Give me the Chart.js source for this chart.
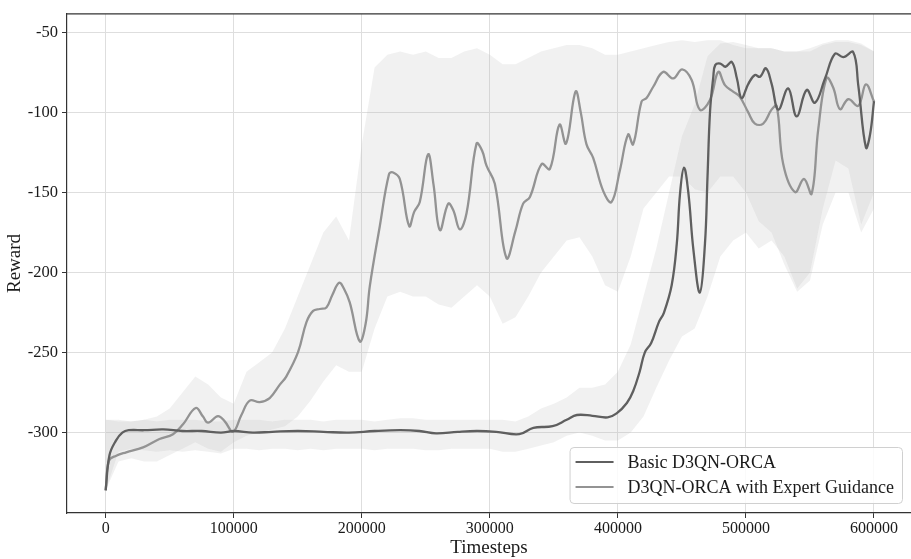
<!DOCTYPE html>
<html>
<head>
<meta charset="utf-8">
<script src="https://cdn.jsdelivr.net/npm/chart.js@4.4.1/dist/chart.umd.min.js"></script>
<style>
  html, body { margin: 0; padding: 0; background: #fff; }
</style>
</head>
<body>
<canvas id="c" width="911" height="559"></canvas>
<script>
// tick labels
const xTicks = [0, 100000, 200000, 300000, 400000, 500000, 600000];
const yTicks = [-300, -250, -200, -150, -100, -50];

// smoothed curve: Basic D3QN-ORCA
const basicSteps = [0, 3000, 8000, 13000, 18000, 30000, 45000, 60000, 75000, 90000,
  100000, 115000, 130000, 150000, 170000, 190000, 210000, 230000, 245000, 258000,
  275000, 290000, 305000, 323000, 334000, 349000, 360000, 368000, 380000, 392000,
  399000, 407000, 412000, 417000, 421000, 426000, 432000, 436000, 442000, 446000,
  448500, 451600, 455000, 459000, 464000, 468000, 470000, 472000, 474500, 476000,
  480000, 484000, 489000, 493000, 496600, 502000, 507000, 511000, 515600, 520000,
  525300, 533000, 539600, 547400, 553900, 561700, 569500, 576000, 583800, 587700,
  593700, 596900, 600000];
const basicReward = [-336, -314, -305, -300, -298.5, -298.5, -298, -299, -299, -300,
  -299, -300, -299.5, -299, -299.5, -300, -299, -298.5, -299, -300.5,
  -299.5, -299, -299.5, -301, -297, -296, -292, -289, -289.5, -290.5,
  -288, -281.5, -274, -262, -250, -244, -231, -225, -208, -182,
  -151, -134.5, -150, -186, -212.5, -182, -140, -99, -78, -70.5,
  -69.5, -71.5, -68.5, -79, -91, -82, -76.7, -77.8, -72.5, -82,
  -98.3, -85, -102.5, -86, -94, -79, -63.4, -65.5, -62.4, -83,
  -122, -114, -93];

// smoothed curve: D3QN-ORCA with Expert Guidance
const expertSteps = [0, 2600, 8300, 16000, 29200, 42000, 52600, 60400, 70300, 76000,
  80000, 87700, 93000, 99500, 106000, 112500, 120300, 128100, 136000, 141000,
  150300, 156800, 162000, 167200, 172400, 177000, 182300, 186000, 190600, 198400,
  203000, 206300, 214000, 221300, 224500, 229700, 237000, 241000, 245300, 251800,
  256000, 261000, 267500, 271400, 276600, 281800, 289600, 294000, 297400, 303900,
  313000, 320000, 326000, 331300, 340400, 346900, 354400, 359500, 367000, 371000,
  375500, 380700, 388500, 395000, 401500, 408000, 411900, 418500, 422400, 427600,
  435400, 443200, 450200, 457600, 464000, 471900, 478400, 483600, 490000, 495000,
  501800, 507000, 513500, 520000, 524000, 529100, 538300, 545300, 551300, 556500,
  563000, 568200, 573400, 579900, 587700, 593700, 600000];
const expertReward = [-336, -317.5, -314.4, -312.3, -309.2, -304, -301, -294.8, -284.6, -290,
  -293.8, -289.7, -293, -299.5, -289, -280, -280.9, -278.4, -270, -265,
  -249.6, -231, -224, -222.8, -221.8, -214, -206.4, -210, -218.7, -243,
  -232, -208.4, -171.4, -138.5, -137.5, -141.6, -171, -162, -156, -126.2,
  -145, -173.5, -157, -161, -173, -163, -119.5, -124, -133.3, -144.6,
  -190.9, -174, -157, -152.8, -132.3, -135.4, -107.6, -119.5, -87, -100,
  -120, -128.4, -149, -156, -136.4, -113.8, -120, -93.2, -91, -84,
  -74.7, -78.8, -73.1, -79.8, -98.4, -92.2, -74.7, -83, -87, -90,
  -100, -107, -107, -98.3, -96, -132.3, -149.8, -141.6, -150.8, -110.3,
  -78.5, -84.6, -98, -91.8, -95.9, -82.5, -93.2];

// raw (unsmoothed) spread, sampled every 10000 steps
const rawSteps = [0, 10000, 20000, 30000, 40000, 50000, 60000, 70000, 80000, 90000,
  100000, 110000, 120000, 130000, 140000, 150000, 160000, 170000, 180000, 190000,
  200000, 210000, 220000, 230000, 240000, 250000, 260000, 270000, 280000, 290000,
  300000, 310000, 320000, 330000, 340000, 350000, 360000, 370000, 380000, 390000,
  400000, 410000, 420000, 430000, 440000, 450000, 460000, 470000, 480000, 490000,
  500000, 510000, 520000, 530000, 540000, 550000, 560000, 570000, 580000, 590000,
  600000];
const basicRawHigh = [-292, -292, -293, -292, -293, -292, -292, -292, -293, -293,
  -292, -292, -292, -293, -292, -292, -292, -293, -292, -292,
  -292, -293, -292, -291, -291, -292, -292, -292, -292, -292,
  -292, -292, -293, -290, -285, -282, -278, -272, -272, -270,
  -262, -245, -215, -185, -150, -115, -95, -65, -57, -56,
  -58, -60, -60, -62, -62, -60, -57, -55, -55, -57,
  -62];
const basicRawLow = [-336, -312, -310, -311, -312, -311, -312, -311, -312, -313,
  -310, -310, -311, -310, -310, -311, -310, -311, -310, -310,
  -310, -311, -310, -310, -310, -311, -311, -310, -310, -310,
  -310, -312, -312, -310, -308, -306, -302, -300, -302, -305,
  -305, -300, -290, -272, -255, -240, -235, -215, -190, -180,
  -175, -185, -180, -190, -210, -200, -160, -130, -135, -170,
  -150];
const expertRawHigh = [-292, -293, -293, -292, -290, -285, -275, -265, -270, -278,
  -282, -262, -256, -250, -235, -215, -195, -175, -165, -180,
  -120, -72, -64, -62, -64, -62, -66, -66, -62, -60,
  -64, -70, -70, -66, -62, -60, -58, -58, -60, -64,
  -64, -62, -60, -58, -56, -55, -56, -55, -55, -58,
  -60, -60, -60, -62, -62, -62, -58, -56, -56, -58,
  -62];
const expertRawLow = [-336, -318, -316, -318, -318, -314, -310, -306, -310, -312,
  -306, -302, -300, -298, -296, -290, -280, -268, -258, -262,
  -262, -235, -215, -212, -215, -215, -220, -222, -215, -208,
  -215, -232, -228, -215, -200, -190, -180, -178, -190, -208,
  -212, -190, -160, -150, -140, -140, -148, -150, -140, -140,
  -150, -168, -175, -195, -212, -205, -170, -150, -150, -175,
  -160];

const seriesNames = ['Basic D3QN-ORCA', 'D3QN-ORCA with Expert Guidance'];
const lineColors = ['#5f5f5f', '#939393'];
const rawFill = 'rgba(185,185,185,0.2)';

const pts = (xs, ys) => xs.map((x, i) => ({ x: x, y: ys[i] }));
const serif = 'Liberation Serif, Times New Roman, serif';

function lineSet(label, data, color) {
  return { label, data, borderColor: color, borderWidth: 2.3, pointRadius: 0,
    tension: 0.4, fill: false };
}
function edgeSet(data, fill) {
  return { label: '', data, borderWidth: 0, borderColor: 'rgba(0,0,0,0)',
    pointRadius: 0, tension: 0, fill: fill, backgroundColor: rawFill };
}

const framePlugin = {
  id: 'frame',
  afterDraw(chart) {
    const ctx = chart.ctx;
    const a = chart.chartArea;
    ctx.save();
    ctx.strokeStyle = '#333';
    ctx.lineWidth = 1.2;
    ctx.beginPath();
    ctx.moveTo(a.left, a.top);
    ctx.lineTo(a.right, a.top);
    ctx.stroke();

    // legend in the lower right corner
    ctx.font = '18px ' + serif;
    const textW = Math.max(...seriesNames.map(n => ctx.measureText(n).width));
    const w = 58 + textW + 8, h = 56;
    const x0 = a.right - 9 - w, y0 = a.bottom - 10 - h;
    ctx.beginPath();
    ctx.roundRect(x0 + 0.5, y0 + 0.5, w, h, 4);
    ctx.fillStyle = 'rgba(255,255,255,0.85)';
    ctx.fill();
    ctx.strokeStyle = '#d0d0d0';
    ctx.lineWidth = 1;
    ctx.stroke();
    ctx.textBaseline = 'middle';
    seriesNames.forEach((name, i) => {
      const y = y0 + 15 + i * 25;
      ctx.strokeStyle = lineColors[i];
      ctx.lineWidth = 2.2;
      ctx.beginPath();
      ctx.moveTo(x0 + 6, y);
      ctx.lineTo(x0 + 44, y);
      ctx.stroke();
      ctx.fillStyle = '#1a1a1a';
      ctx.fillText(name, x0 + 58, y + 1);
    });
    ctx.restore();
  }
};

new Chart(document.getElementById('c'), {
  type: 'line',
  data: {
    datasets: [
      lineSet(seriesNames[0], pts(basicSteps, basicReward), lineColors[0]),
      lineSet(seriesNames[1], pts(expertSteps, expertReward), lineColors[1]),
      edgeSet(pts(rawSteps, basicRawLow), false),
      edgeSet(pts(rawSteps, basicRawHigh), '-1'),
      edgeSet(pts(rawSteps, expertRawLow), false),
      edgeSet(pts(rawSteps, expertRawHigh), '-1')
    ]
  },
  options: {
    responsive: false,
    devicePixelRatio: 1,
    animation: false,
    layout: { padding: { top: 8, left: 0, right: 0, bottom: 0 } },
    plugins: { legend: { display: false }, tooltip: { enabled: false } },
    scales: {
      x: {
        type: 'linear',
        min: -30200,
        max: 628900,
        afterBuildTicks: s => { s.ticks = xTicks.map(v => ({ value: v })); },
        afterFit: s => { s.height = 46; },
        ticks: { font: { family: serif, size: 16 }, color: '#1a1a1a', padding: 1,
          maxRotation: 0, autoSkip: false, callback: v => String(v) },
        grid: { color: '#dedede', lineWidth: 1, tickColor: '#333', tickLength: 5 },
        border: { color: '#333', width: 1.2 },
        title: { display: true, text: 'Timesteps', font: { family: serif, size: 19 },
          color: '#1a1a1a', padding: { top: 0, bottom: 0 } }
      },
      y: {
        min: -350.2,
        max: -38.5,
        afterBuildTicks: s => { s.ticks = yTicks.map(v => ({ value: v })); },
        afterFit: s => { s.width = 67; },
        ticks: { font: { family: serif, size: 16.5 }, color: '#1a1a1a', padding: 4,
          callback: v => String(v) },
        grid: { color: '#dedede', lineWidth: 1, tickColor: '#333', tickLength: 5 },
        border: { color: '#333', width: 1.2 },
        title: { display: true, text: 'Reward', font: { family: serif, size: 19 },
          color: '#1a1a1a', padding: { top: 4, bottom: 0 } }
      }
    }
  },
  plugins: [framePlugin]
});
</script>
</body>
</html>
